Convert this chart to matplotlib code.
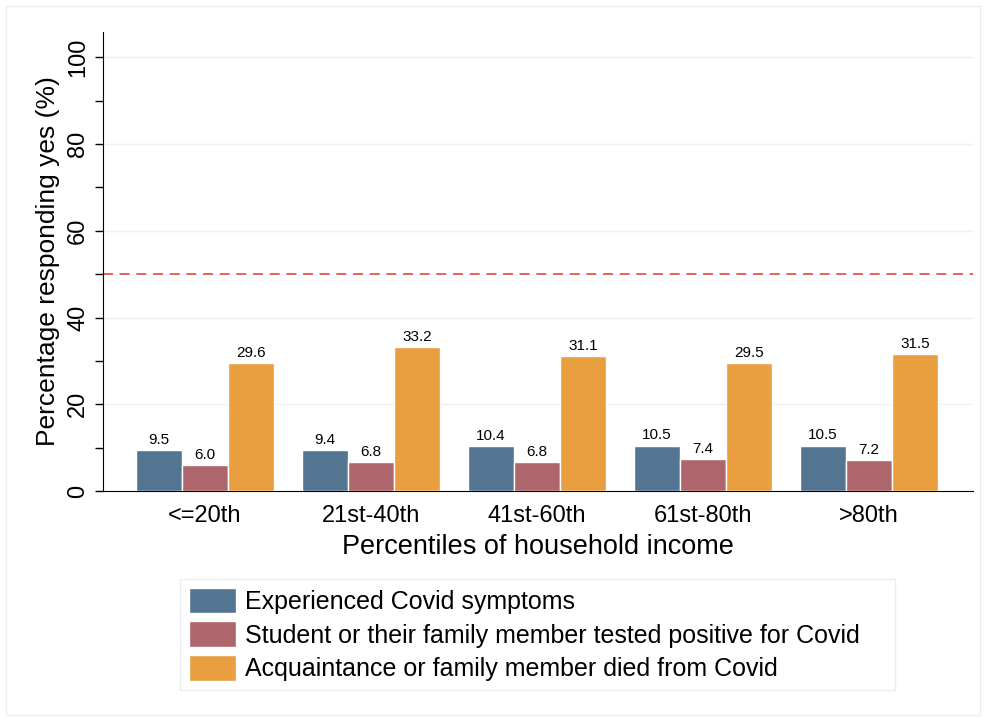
import numpy as np
from matplotlib import pyplot as plt
from matplotlib.patches import Rectangle

plt.rcParams['font.family'] = ['Liberation Sans', 'DejaVu Sans']

# Data
categories = ['<=20th', '21st-40th', '41st-60th', '61st-80th', '>80th']
symptoms = [9.5, 9.4, 10.4, 10.5, 10.5]
tested_pos = [6.0, 6.8, 6.8, 7.4, 7.2]
died = [29.6, 33.2, 31.1, 29.5, 31.5]
series_labels = ['Experienced Covid symptoms',
                 'Student or their family member tested positive for Covid',
                 'Acquaintance or family member died from Covid']
colors = ['#547592', '#ad666b', '#e99e40']

fig = plt.figure(figsize=(9.84, 7.19), dpi=100)
ax = fig.add_axes([0.1047, 0.317, 0.8841, 0.6385])

# light outer frame
fig.patches.append(Rectangle((0.006, 0.006), 0.99, 0.985, transform=fig.transFigure,
                             fill=False, edgecolor='#e6eff1', linewidth=1))

x = np.arange(len(categories))
w = 0.277
for i, vals in enumerate([symptoms, tested_pos, died]):
    bars = ax.bar(x + (i - 1) * w, vals, width=w, color=colors[i],
                  edgecolor='white', linewidth=1, label=series_labels[i], zorder=3)
    for b, v in zip(bars, vals):
        ax.text(b.get_x() + b.get_width() / 2, v + 0.7, f'{v:.1f}',
                ha='center', va='bottom', fontsize=11, zorder=4)

ax.axhline(50, color='#e8453c', linestyle=(0, (6, 4)), linewidth=1.2, zorder=2)

ax.set_xlim(-0.615, 4.627)
ax.set_ylim(0, 105.8)
ax.set_yticks(np.arange(0, 101, 20))
ax.set_yticks(np.arange(0, 101, 10), minor=True)
ax.yaxis.grid(True, which='major', color='#eaf1f2', linewidth=1, zorder=0)
ax.set_axisbelow(True)
ax.set_xticks(x)
ax.set_xticklabels(categories, fontsize=17)
ax.tick_params(axis='x', length=0, pad=10)
ax.tick_params(axis='y', which='both', length=6, width=1, labelsize=17, labelrotation=90, pad=4)
for lab in ax.get_yticklabels():
    lab.set_va('center')
ax.spines['top'].set_visible(False)
ax.spines['right'].set_visible(False)
ax.set_xlabel('Percentiles of household income', fontsize=19.5, labelpad=5)
ax.set_ylabel('Percentage responding yes (%)', fontsize=19, labelpad=5)

leg = fig.legend(loc='lower left', bbox_to_anchor=(0.183, 0.040, 0.727, 0.158),
                 mode='expand', ncol=1, fontsize=18, frameon=True, fancybox=False,
                 edgecolor='#e0ecee', handlelength=1.9, handleheight=1.2,
                 labelspacing=0.3, handletextpad=0.35, borderpad=0.35, borderaxespad=0)
leg.get_frame().set_linewidth(1)

fig.savefig('out.png', dpi=100)
